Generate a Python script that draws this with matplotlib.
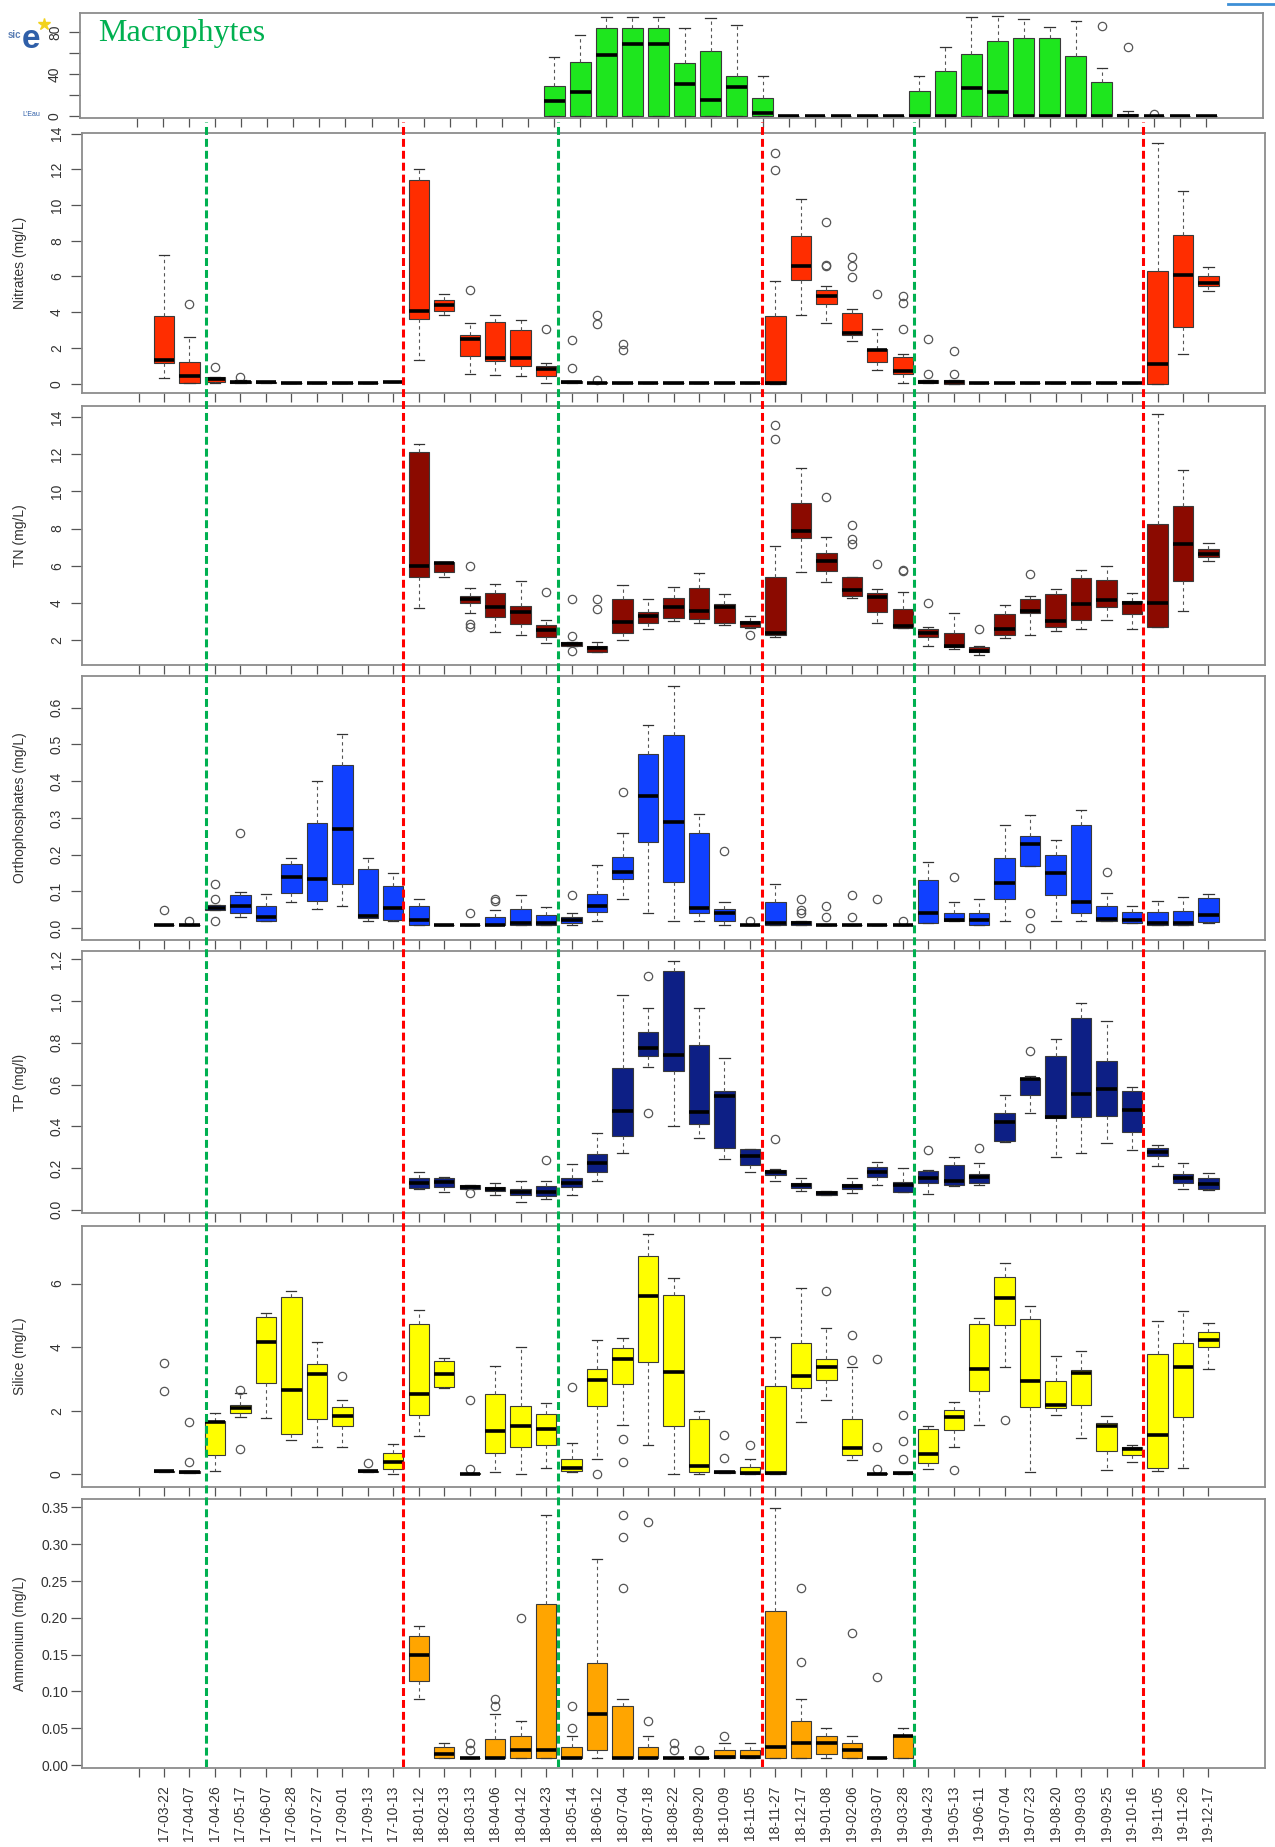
import matplotlib
matplotlib.use("Agg")
import matplotlib.pyplot as plt
from matplotlib.lines import Line2D

plt.rcParams['font.family'] = ['Liberation Sans', 'DejaVu Sans']

# ---------------- categories ----------------
dates = ['', '17-03-22', '17-04-07', '17-04-26', '17-05-17', '17-06-07', '17-06-28', '17-07-27',
         '17-09-01', '17-09-13', '17-10-13', '18-01-12', '18-02-13', '18-03-13', '18-04-06',
         '18-04-12', '18-04-23', '18-05-14', '18-06-12', '18-07-04', '18-07-18', '18-08-22',
         '18-09-20', '18-10-09', '18-11-05', '18-11-27', '18-12-17', '19-01-08', '19-02-06',
         '19-03-07', '19-03-28', '19-04-23', '19-05-13', '19-06-11', '19-07-04', '19-07-23',
         '19-08-20', '19-09-03', '19-09-25', '19-10-16', '19-11-05', '19-11-26', '19-12-17']

# event lines (positions on the date axis) and their colours
event_pos = [2.64, 10.38, 16.46, 24.47, 30.43, 39.45]
event_col = ['#00b050', '#ff0000', '#00b050', '#ff0000', '#00b050', '#ff0000']

N = None
# ---------------- Macrophytes (41 sampling positions) ----------------
mac_q1 = [N]*15 + [0, 0, 0, 0, 0, 0, 0, 0, 0, 0, 0, 0, 0, 0, 0, 0, 0, 0, 0, 0, 0, 0, 0, 0, 0, 0]
mac_med = [N]*15 + [15, 23, 58.5, 68.7, 68.7, 31, 16, 28, 3, 0, 0, 0, 0, 0, 0, 0, 27, 23, 0, 0, 0, 0, 0.5, 0, 0, 0]
mac_q3 = [N]*15 + [29, 52, 84, 84, 84, 51, 62, 38, 17, 0, 0, 0, 0, 0, 24, 43, 59.5, 71, 74, 74, 57, 33, 2, 0, 0, 0]
mac_lo = [N]*15 + [0]*26
mac_hi = [N]*15 + [56, 77, 94, 94, 94, 84, 93, 87, 38, 0, 0, 0, 0, 0, 38, 66, 94, 95.6, 92, 85, 90, 46, 5, 0, 0, 0]
mac_out = {37: [85.5], 38: [66], 39: [2]}

# ---------------- Nitrates ----------------
nit_q1 = [1.16, 0.06, 0.10, 0.06, 0.04, 0.03, 0.03, 0.03, 0.03, 0.08, 3.62, 4.07, 1.57, 1.27, 0.99, 0.41,
          0.05, 0.03, 0.03, 0.03, 0.03, 0.03, 0.03, 0.03, 0.0, 5.82, 4.48, 2.70, 1.19, 0.56, 0.06, 0.0,
          0.03, 0.03, 0.03, 0.03, 0.03, 0.03, 0.03, 0.0, 3.17, 5.47]
nit_med = [1.34, 0.41, 0.28, 0.10, 0.08, 0.05, 0.05, 0.05, 0.05, 0.10, 4.05, 4.38, 2.52, 1.42, 1.45, 0.82,
           0.10, 0.05, 0.05, 0.05, 0.05, 0.05, 0.05, 0.05, 0.06, 6.57, 4.90, 2.85, 1.87, 0.73, 0.11, 0.10,
           0.05, 0.05, 0.05, 0.05, 0.05, 0.05, 0.05, 1.12, 6.06, 5.63]
nit_q3 = [3.77, 1.21, 0.37, 0.14, 0.12, 0.06, 0.06, 0.06, 0.06, 0.12, 11.38, 4.66, 2.74, 3.47, 3.02, 0.97,
          0.15, 0.07, 0.06, 0.06, 0.06, 0.06, 0.06, 0.06, 3.79, 8.26, 5.26, 3.96, 1.92, 1.47, 0.19, 0.22,
          0.06, 0.06, 0.06, 0.06, 0.06, 0.06, 0.06, 6.29, 8.34, 6.04]
nit_lo = [0.34, 0.05, 0.05, 0.03, 0.02, 0.03, 0.03, 0.03, 0.03, 0.08, 1.34, 3.86, 0.56, 0.47, 0.43, 0.06,
          0.05, 0.03, 0.03, 0.03, 0.03, 0.03, 0.03, 0.03, 0.0, 3.86, 3.41, 2.39, 0.78, 0.06, 0.06, 0.0,
          0.03, 0.03, 0.03, 0.03, 0.03, 0.03, 0.03, 0.0, 1.68, 5.20]
nit_hi = [7.22, 2.61, 0.40, 0.20, 0.12, 0.06, 0.06, 0.06, 0.06, 0.12, 12.0, 5.0, 3.41, 3.82, 3.58, 1.17,
          0.15, 0.07, 0.06, 0.06, 0.06, 0.06, 0.06, 0.06, 5.75, 10.34, 5.47, 4.18, 3.06, 1.68, 0.19, 0.22,
          0.06, 0.06, 0.06, 0.06, 0.06, 0.06, 0.06, 13.47, 10.76, 6.51]
nit_out = {2: [4.46], 3: [0.91], 4: [0.40], 13: [5.26], 16: [3.04], 17: [2.43, 0.9],
           18: [3.82, 3.32, 0.22], 19: [2.24, 1.9], 25: [12.9, 11.94], 27: [9.05, 6.66, 6.59],
           28: [7.09, 6.57, 5.97], 29: [5.04], 30: [4.9, 4.51, 3.04], 31: [2.52, 0.56], 32: [1.83, 0.52]}

# ---------------- TN ----------------
tn_q1 = [N]*10 + [5.38, 5.68, 3.97, 3.22, 2.86, 2.18, 1.69, 1.34, 2.39, 2.93, 3.17, 3.11, 2.93, 2.72, 2.27,
                  7.48, 5.73, 4.39, 3.53, 2.63, 2.18, 1.60, 1.34, 2.27, 3.44, 2.68, 3.08, 3.80, 3.40, 2.68,
                  5.18, 6.49]
tn_med = [N]*10 + [6.00, 6.13, 4.21, 3.80, 3.53, 2.54, 1.78, 1.55, 2.99, 3.29, 3.76, 3.56, 3.76, 2.90, 2.39,
                   7.89, 6.27, 4.69, 4.33, 2.77, 2.36, 1.69, 1.43, 2.59, 3.56, 3.02, 3.92, 4.15, 4.01, 3.97,
                   7.17, 6.63]
tn_q3 = [N]*10 + [12.1, 6.22, 4.39, 4.55, 3.85, 2.81, 1.87, 1.68, 4.19, 3.49, 4.28, 4.78, 3.92, 3.02, 5.39,
                  9.36, 6.67, 5.38, 4.51, 3.67, 2.57, 2.39, 1.60, 3.40, 4.21, 4.48, 5.36, 5.23, 4.10, 8.25,
                  9.22, 6.90]
tn_lo = [N]*10 + [3.74, 5.41, 3.47, 2.45, 2.27, 1.86, 1.69, 1.34, 2.00, 2.59, 3.04, 2.93, 2.81, 2.63, 2.14,
                  5.68, 5.10, 4.24, 2.93, 2.63, 1.69, 1.52, 1.19, 2.13, 2.27, 2.50, 2.57, 3.08, 2.57, 2.68,
                  3.58, 6.25]
tn_hi = [N]*10 + [12.57, 6.22, 4.78, 5.02, 5.20, 3.08, 1.87, 1.91, 4.96, 4.19, 4.87, 5.63, 4.46, 3.31, 7.06,
                  11.28, 7.55, 5.38, 4.73, 4.60, 2.72, 3.44, 1.68, 3.88, 4.39, 4.75, 5.77, 5.99, 4.55, 14.17,
                  11.16, 7.24]
tn_out = {13: [6.0, 2.86, 2.68], 16: [4.57], 17: [4.21, 2.23, 1.43], 18: [4.19, 3.67], 24: [2.27],
          25: [13.6, 12.84], 27: [9.68], 28: [8.2, 7.42, 7.15], 29: [6.09], 30: [5.77, 5.73],
          31: [3.97], 33: [2.59], 35: [5.54]}

# ---------------- Orthophosphates ----------------
op_q1 = [0.01, 0.01, 0.049, 0.041, 0.019, 0.095, 0.075, 0.121, 0.028, 0.023, 0.01, 0.01, 0.01, 0.01, 0.01,
         0.01, 0.013, 0.044, 0.134, 0.235, 0.125, 0.041, 0.02, 0.01, 0.01, 0.01, 0.01, 0.01, 0.01, 0.01,
         0.015, 0.019, 0.01, 0.08, 0.17, 0.09, 0.041, 0.02, 0.013, 0.01, 0.01, 0.017]
op_med = [0.01, 0.01, 0.056, 0.061, 0.03, 0.139, 0.135, 0.271, 0.032, 0.055, 0.023, 0.01, 0.01, 0.01, 0.013,
          0.013, 0.023, 0.061, 0.152, 0.359, 0.29, 0.055, 0.042, 0.01, 0.013, 0.013, 0.01, 0.01, 0.01, 0.01,
          0.041, 0.023, 0.023, 0.122, 0.23, 0.151, 0.071, 0.025, 0.023, 0.015, 0.013, 0.037]
op_q3 = [0.01, 0.01, 0.063, 0.09, 0.061, 0.176, 0.285, 0.445, 0.16, 0.115, 0.06, 0.01, 0.01, 0.03, 0.051,
         0.036, 0.031, 0.094, 0.195, 0.475, 0.526, 0.26, 0.051, 0.01, 0.071, 0.019, 0.01, 0.01, 0.01, 0.01,
         0.13, 0.041, 0.041, 0.19, 0.251, 0.2, 0.281, 0.061, 0.044, 0.044, 0.048, 0.082]
op_lo = [0.01, 0.01, 0.049, 0.03, 0.019, 0.071, 0.051, 0.06, 0.021, 0.02, 0.01, 0.01, 0.01, 0.01, 0.01,
         0.01, 0.01, 0.019, 0.08, 0.042, 0.02, 0.02, 0.01, 0.01, 0.01, 0.01, 0.01, 0.01, 0.01, 0.01,
         0.013, 0.019, 0.01, 0.02, 0.17, 0.02, 0.02, 0.02, 0.013, 0.01, 0.01, 0.013]
op_hi = [0.01, 0.01, 0.063, 0.099, 0.092, 0.19, 0.40, 0.529, 0.19, 0.151, 0.08, 0.01, 0.01, 0.05, 0.09,
         0.058, 0.042, 0.171, 0.26, 0.552, 0.659, 0.311, 0.071, 0.01, 0.12, 0.019, 0.01, 0.01, 0.01, 0.01,
         0.179, 0.071, 0.08, 0.281, 0.309, 0.24, 0.321, 0.095, 0.06, 0.075, 0.084, 0.092]
op_out = {1: [0.05], 2: [0.02], 3: [0.12, 0.08, 0.02], 4: [0.26], 13: [0.041], 14: [0.08, 0.075],
          17: [0.09], 19: [0.371], 23: [0.21], 24: [0.02], 26: [0.08, 0.05, 0.042], 27: [0.06, 0.03],
          28: [0.09, 0.03], 29: [0.08], 30: [0.021], 32: [0.139], 35: [0.041, 0.0], 38: [0.152]}

# ---------------- TP ----------------
tp_q1 = [N]*10 + [0.104, 0.109, 0.10, 0.089, 0.07, 0.067, 0.109, 0.181, 0.355, 0.737, 0.667, 0.41, 0.298,
                  0.215, 0.168, 0.107, 0.072, 0.10, 0.159, 0.084, 0.131, 0.121, 0.131, 0.33, 0.55, 0.439,
                  0.447, 0.452, 0.372, 0.26, 0.131, 0.10]
tp_med = [N]*10 + [0.131, 0.134, 0.109, 0.10, 0.084, 0.087, 0.131, 0.226, 0.473, 0.776, 0.741, 0.469, 0.545,
                   0.26, 0.181, 0.119, 0.08, 0.114, 0.181, 0.117, 0.151, 0.137, 0.156, 0.419, 0.628, 0.447,
                   0.556, 0.578, 0.478, 0.277, 0.154, 0.126]
tp_q3 = [N]*10 + [0.151, 0.154, 0.117, 0.109, 0.10, 0.114, 0.154, 0.268, 0.679, 0.85, 1.145, 0.791, 0.57,
                  0.293, 0.189, 0.129, 0.089, 0.124, 0.204, 0.132, 0.188, 0.213, 0.174, 0.466, 0.633, 0.737,
                  0.918, 0.712, 0.57, 0.298, 0.173, 0.151]
tp_lo = [N]*10 + [0.10, 0.087, 0.10, 0.072, 0.039, 0.054, 0.072, 0.139, 0.271, 0.682, 0.402, 0.344, 0.243,
                  0.181, 0.139, 0.089, 0.072, 0.08, 0.121, 0.084, 0.075, 0.115, 0.117, 0.325, 0.466, 0.255,
                  0.273, 0.322, 0.288, 0.209, 0.10, 0.097]
tp_hi = [N]*10 + [0.181, 0.158, 0.117, 0.131, 0.139, 0.139, 0.221, 0.369, 1.031, 0.967, 1.19, 0.969, 0.729,
                  0.293, 0.195, 0.151, 0.089, 0.151, 0.23, 0.201, 0.19, 0.255, 0.226, 0.55, 0.64, 0.818,
                  0.992, 0.905, 0.587, 0.31, 0.223, 0.176]
tp_out = {13: [0.079], 16: [0.24], 20: [1.12, 0.466], 25: [0.34], 31: [0.285], 33: [0.297], 35: [0.759]}

# ---------------- Silice ----------------
si_q1 = [0.07, 0.05, 0.62, 1.93, 2.87, 1.28, 1.73, 1.51, 0.07, 0.17, 1.88, 2.75, 0.0, 0.67, 0.85, 0.92, 0.10,
         2.16, 2.83, 3.54, 1.52, 0.08, 0.04, 0.0, 0.0, 2.72, 2.97, 0.61, 0.0, 0.0, 0.36, 1.39, 2.61, 4.69,
         2.13, 2.08, 2.18, 0.72, 0.61, 0.19, 1.79, 3.99]
si_med = [0.09, 0.07, 1.63, 2.10, 4.16, 2.66, 3.15, 1.82, 0.09, 0.38, 2.52, 3.17, 0.02, 1.35, 1.53, 1.43,
          0.21, 2.98, 3.62, 5.61, 3.22, 0.27, 0.07, 0.04, 0.04, 3.09, 3.37, 0.84, 0.02, 0.03, 0.64, 1.79,
          3.30, 5.55, 2.94, 2.19, 3.20, 1.52, 0.79, 1.22, 3.39, 4.21]
si_q3 = [0.10, 0.09, 1.67, 2.19, 4.96, 5.58, 3.48, 2.12, 0.10, 0.67, 4.73, 3.56, 0.05, 2.53, 2.16, 1.91, 0.49,
         3.30, 3.98, 6.88, 5.64, 1.74, 0.10, 0.22, 2.78, 4.12, 3.64, 1.73, 0.04, 0.05, 1.43, 2.02, 4.74, 6.20,
         4.90, 2.94, 3.28, 1.62, 0.87, 3.79, 4.12, 4.46]
si_lo = [0.07, 0.05, 0.11, 1.79, 1.76, 1.07, 0.87, 0.87, 0.07, 0.02, 1.20, 2.70, 0.0, 0.06, 0.0, 0.19, 0.08,
         0.49, 1.56, 0.92, 0.02, 0.02, 0.04, 0.0, 0.0, 1.65, 2.33, 0.45, 0.0, 0.0, 0.17, 0.87, 1.54, 3.36,
         0.06, 1.88, 1.15, 0.13, 0.38, 0.10, 0.19, 3.30]
si_hi = [0.10, 0.09, 1.93, 2.57, 5.06, 5.75, 4.15, 2.33, 0.10, 0.94, 5.17, 3.66, 0.05, 3.42, 4.01, 2.25, 0.98,
         4.21, 4.29, 7.57, 6.17, 1.99, 0.10, 0.47, 4.31, 5.87, 4.61, 3.37, 0.04, 0.05, 1.52, 2.27, 4.93, 6.65,
         5.30, 3.73, 3.87, 1.82, 0.92, 4.82, 5.13, 4.76]
si_out = {1: [3.5, 2.63], 2: [1.63, 0.38], 4: [2.66, 0.8], 8: [3.08], 9: [0.36], 13: [2.35, 0.17],
          17: [2.74], 18: [0.0], 19: [1.12, 0.39], 23: [1.25, 0.51], 24: [0.92], 27: [5.75],
          28: [4.38, 3.58], 29: [3.62, 0.87, 0.17], 30: [1.88, 1.06, 0.49], 32: [0.13], 34: [1.71]}

# ---------------- Ammonium ----------------
am_q1 = [N]*10 + [0.114, 0.01, 0.01, 0.01, 0.01, 0.01, 0.01, 0.02, 0.01, 0.01, 0.01, 0.01, 0.01, 0.01,
                  0.01, 0.01, 0.015, 0.01, 0.01, 0.01] + [N]*12
am_med = [N]*10 + [0.15, 0.015, 0.01, 0.01, 0.02, 0.02, 0.01, 0.07, 0.01, 0.01, 0.01, 0.01, 0.011, 0.011,
                   0.025, 0.03, 0.03, 0.02, 0.01, 0.04] + [N]*12
am_q3 = [N]*10 + [0.175, 0.025, 0.01, 0.035, 0.04, 0.219, 0.025, 0.139, 0.08, 0.025, 0.01, 0.01, 0.02, 0.02,
                  0.21, 0.06, 0.04, 0.03, 0.01, 0.04] + [N]*12
am_lo = [N]*10 + [0.09, 0.01, 0.01, 0.01, 0.01, 0.01, 0.01, 0.01, 0.01, 0.01, 0.01, 0.01, 0.01, 0.01,
                  0.01, 0.01, 0.01, 0.01, 0.01, 0.01] + [N]*12
am_hi = [N]*10 + [0.189, 0.03, 0.01, 0.069, 0.06, 0.34, 0.04, 0.28, 0.09, 0.04, 0.01, 0.01, 0.03, 0.03,
                  0.349, 0.09, 0.05, 0.04, 0.01, 0.05] + [N]*12
am_out = {13: [0.03, 0.02], 14: [0.09, 0.08], 15: [0.2], 17: [0.08, 0.05], 19: [0.34, 0.31, 0.24],
          20: [0.33, 0.06], 21: [0.03, 0.02], 22: [0.02], 23: [0.04], 26: [0.24, 0.14], 28: [0.18],
          29: [0.12]}

# ---------------- drawing ----------------
W, H = 1275, 1847
fig = plt.figure(figsize=(W / 100, H / 100), dpi=100)
fig.patch.set_facecolor('white')


def add_ax(left, top, right, bottom):
    return fig.add_axes([left / W, 1 - bottom / H, (right - left) / W, (bottom - top) / H])


def make_stats(q1, med, q3, lo, hi, out):
    stats, pos = [], []
    for i, (a, m, b, l, h) in enumerate(zip(q1, med, q3, lo, hi)):
        if m is None:
            continue
        stats.append(dict(q1=a, med=m, q3=b, whislo=l, whishi=h, fliers=out.get(i + 1, [])))
        pos.append(i + 1)
    return stats, pos


FRAME = '#8c8c8c'
TICKC = '#555555'
LABC = '#333333'


def style_axes(ax, nticks):
    for s in ax.spines.values():
        s.set_color(FRAME)
        s.set_linewidth(1.3)
    ax.set_xticks(range(nticks))
    ax.tick_params(axis='x', direction='out', length=6.5, width=0.9, color=TICKC, labelbottom=False)
    ax.tick_params(axis='y', direction='out', length=8, width=0.9, color=TICKC, labelsize=10,
                   labelcolor=LABC, pad=5)


def draw_panel(ax, q1, med, q3, lo, hi, out, color):
    stats, pos = make_stats(q1, med, q3, lo, hi, out)
    ax.bxp(stats, positions=pos, widths=0.8, capwidths=0.4, patch_artist=True, manage_ticks=False,
           boxprops=dict(facecolor=color, edgecolor='#3a3a3a', linewidth=0.8),
           medianprops=dict(color='black', linewidth=2.6, solid_capstyle='butt'),
           whiskerprops=dict(color='#555555', linewidth=0.8, linestyle=(0, (3, 3))),
           capprops=dict(color='#333333', linewidth=0.9),
           flierprops=dict(marker='o', markerfacecolor='none', markeredgecolor='#555555',
                           markersize=6, markeredgewidth=0.9))


XL = 82
XR = 1265
xlim_main = (-2.22, 44.22)

# Macrophytes
axm = add_ax(80, 13, 1263, 118)
draw_panel(axm, mac_q1, mac_med, mac_q3, mac_lo, mac_hi, mac_out, '#1ee61e')
style_axes(axm, 42)
axm.set_xlim(-2.18, 43.18)
axm.set_ylim(-1.5, 98)
axm.set_yticks([0, 20, 40, 60, 80])
axm.set_yticklabels(['0', '', '40', '', '80'], rotation=90, va='center')
fig.text(98 / W, 1 - 41 / H, 'Macrophytes', color='#00b050', fontsize=23,
         family=['Liberation Serif', 'DejaVu Serif'], va='baseline', ha='left')

panels = [
    (133, 393, nit_q1, nit_med, nit_q3, nit_lo, nit_hi, nit_out, '#ff2d00', (-0.52, 14.03),
     [0, 2, 4, 6, 8, 10, 12, 14], ['0', '2', '4', '6', '8', '10', '12', '14'], 'Nitrates (mg/L)', 90),
    (406, 665, tn_q1, tn_med, tn_q3, tn_lo, tn_hi, tn_out, '#8b0a00', (0.65, 14.6),
     [2, 4, 6, 8, 10, 12, 14], ['2', '4', '6', '8', '10', '12', '14'], 'TN (mg/L)', 90),
    (676, 940, op_q1, op_med, op_q3, op_lo, op_hi, op_out, '#1040ff', (-0.032, 0.686),
     [0, 0.1, 0.2, 0.3, 0.4, 0.5, 0.6], ['0.0', '0.1', '0.2', '0.3', '0.4', '0.5', '0.6'],
     'Orthophosphates (mg/L)', 90),
    (951, 1213, tp_q1, tp_med, tp_q3, tp_lo, tp_hi, tp_out, '#0d1f85', (-0.015, 1.24),
     [0, 0.2, 0.4, 0.6, 0.8, 1.0, 1.2], ['0.0', '0.2', '0.4', '0.6', '0.8', '1.0', '1.2'], 'TP (mg/l)', 90),
    (1226, 1487, si_q1, si_med, si_q3, si_lo, si_hi, si_out, '#ffff00', (-0.4, 7.81),
     [0, 2, 4, 6], ['0', '2', '4', '6'], 'Silice (mg/L)', 90),
    (1499, 1768, am_q1, am_med, am_q3, am_lo, am_hi, am_out, '#ffa500', (-0.004, 0.3615),
     [0, 0.05, 0.10, 0.15, 0.20, 0.25, 0.30, 0.35],
     ['0.00', '0.05', '0.10', '0.15', '0.20', '0.25', '0.30', '0.35'], 'Ammonium (mg/L)', 0),
]

axes = []
for (top, bot, q1, med, q3, lo, hi, out, col, ylim, yt, ytl, lab, rot) in panels:
    ax = add_ax(XL, top, XR, bot)
    draw_panel(ax, q1, med, q3, lo, hi, out, col)
    style_axes(ax, 43)
    ax.set_xlim(*xlim_main)
    ax.set_ylim(*ylim)
    ax.set_yticks(yt)
    if rot == 90:
        ax.set_yticklabels(ytl, rotation=90, va='center')
    else:
        ax.set_yticklabels(ytl)
        ax.tick_params(axis='y', pad=2)
    ax.text((20 - XL) / (XR - XL), 0.5, lab, transform=ax.transAxes, rotation=90,
            ha='center', va='center', fontsize=10, color=LABC)
    axes.append(ax)

# date labels under the last panel
axb = axes[-1]
axb.set_xticks(range(43))
axb.set_xticklabels(dates, rotation=90, fontsize=10, color=LABC)
axb.tick_params(axis='x', labelbottom=True, pad=6)

# overlay for event lines across panels
axo = add_ax(XL, 122, XR, 1767)
axo.set_xlim(*xlim_main)
axo.set_ylim(0, 1)
axo.patch.set_visible(False)
axo.axis('off')
for xv, cv in zip(event_pos, event_col):
    axo.axvline(xv, color=cv, linewidth=2.2, linestyle=(0, (2.6, 1.3)))

# logo-like marks
fig.text(8 / W, 1 - 38 / H, 'sic', color='#5b7fb5', fontsize=7, fontweight='bold')
fig.text(22 / W, 1 - 48 / H, 'e', color='#2f5fa8', fontsize=24, fontweight='bold')
fig.text(22 / W, 1 - 116 / H, "L'Eau", color='#2f5fa8', fontsize=5)
fig.add_artist(Line2D([44 / W], [1 - 24 / H], marker='*', color='#f2d21b', markersize=9,
                      transform=fig.transFigure))
fig.add_artist(Line2D([1228 / W, 1275 / W], [1 - 4 / H, 1 - 4 / H], color='#3d8fd6', linewidth=2,
                      transform=fig.transFigure))

fig.savefig('out.png', dpi=100, facecolor='white')
